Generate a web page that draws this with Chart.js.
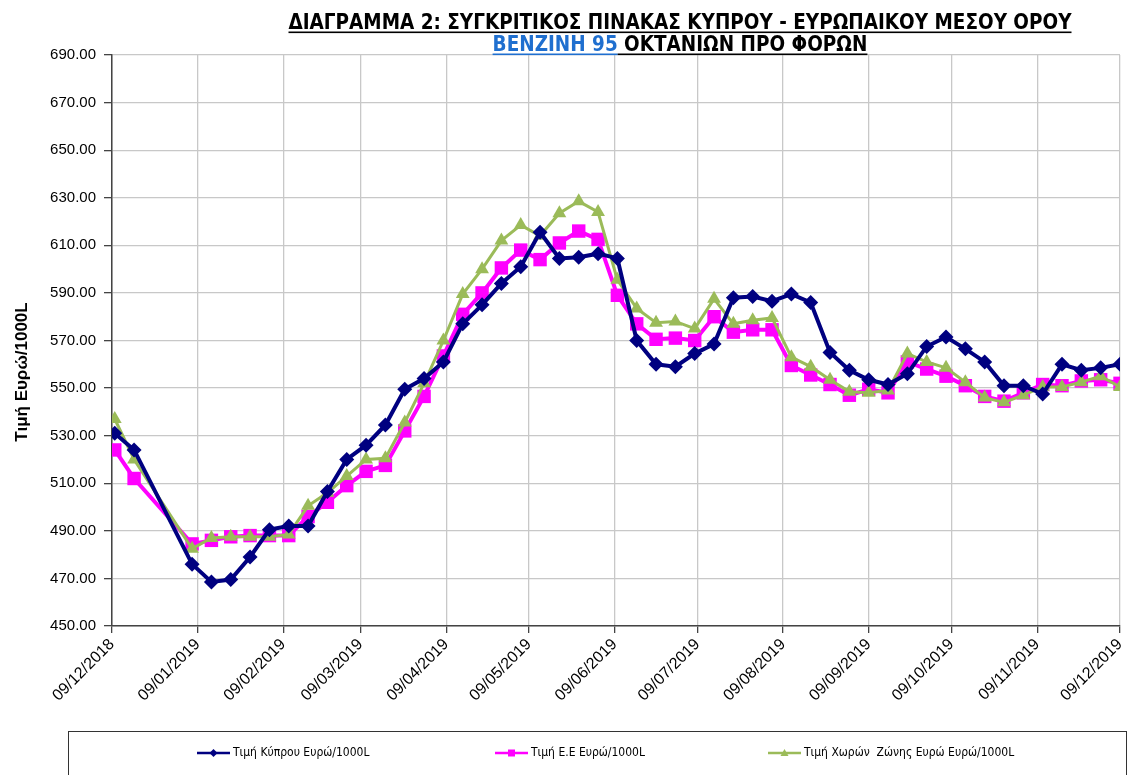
<!DOCTYPE html>
<html>
<head>
<meta charset="utf-8">
<script src="https://cdn.jsdelivr.net/npm/chart.js@4.4.1/dist/chart.umd.min.js"></script>
<style>
  body { margin: 0; background: #fff; }
  #wrap { width: 1129px; height: 775px; position: relative; }
</style>
</head>
<body>
<div id="wrap"><canvas id="myChart"></canvas></div>
<script>
// weekly price dates (Mondays)
var dates = ['10/12/2018', '17/12/2018',
  '07/01/2019', '14/01/2019', '21/01/2019', '28/01/2019',
  '04/02/2019', '11/02/2019', '18/02/2019', '25/02/2019',
  '04/03/2019', '11/03/2019', '18/03/2019', '25/03/2019',
  '01/04/2019', '08/04/2019', '15/04/2019', '22/04/2019', '29/04/2019',
  '06/05/2019', '13/05/2019', '20/05/2019', '27/05/2019',
  '03/06/2019', '10/06/2019', '17/06/2019', '24/06/2019',
  '01/07/2019', '08/07/2019', '15/07/2019', '22/07/2019', '29/07/2019',
  '05/08/2019', '12/08/2019', '19/08/2019', '26/08/2019',
  '02/09/2019', '09/09/2019', '16/09/2019', '23/09/2019', '30/09/2019',
  '07/10/2019', '14/10/2019', '21/10/2019', '28/10/2019',
  '04/11/2019', '11/11/2019', '18/11/2019', '25/11/2019',
  '02/12/2019', '09/12/2019'];

var cyprus = [531, 524, 476, 468.5, 469.5, 479, 490.5, 492, 492, 506.5, 520, 526, 534.5, 549.5, 554, 561, 577, 585, 594, 601,
  615.5, 604.5, 605, 606.5, 604.5, 570, 560, 559, 564.5, 568.5, 588, 588.5, 586.5, 589.5, 586, 565, 557.5, 553.5, 551.5, 556,
  567.5, 571.5, 566.5, 561, 551, 551, 547.5, 560, 557.5, 558.5, 560];

var eu = [524, 512, 484.5, 486, 487.5, 488, 488, 488, 496, 502, 509, 515, 517.5, 532, 546.5, 563.5, 581, 590, 600.5, 608,
  604, 611, 616, 612.5, 589, 577, 570.5, 571, 570, 580, 573.5, 574.5, 574.5, 559.5, 555.5, 551.5, 547, 549.5, 548, 561,
  558, 555, 551, 546.5, 544.5, 548, 551.5, 551, 553, 553.5, 552];

var eurozone = [537, 520, 482.5, 487, 487.5, 487.5, 487.5, 488.5, 500.5, 506, 513, 520, 520.5, 535.5, 552, 570, 589.5, 600, 612, 618.5,
  614, 623.5, 628.5, 624, 595.5, 583.5, 577.5, 578, 575, 587.5, 577, 578.5, 579.5, 563, 559, 553.5, 548.5, 548, 549, 564.5,
  561, 558.5, 552.5, 546, 544, 547, 550.5, 550.5, 552.5, 555, 550.5];

var tickLabels = ['09/12/2018', '09/01/2019', '09/02/2019', '09/03/2019', '09/04/2019', '09/05/2019', '09/06/2019',
  '09/07/2019', '09/08/2019', '09/09/2019', '09/10/2019', '09/11/2019', '09/12/2019'];

var seriesNames = ['Τιμή Κύπρου Ευρώ/1000L', 'Τιμή Ε.Ε Ευρώ/1000L', 'Τιμή Χωρών  Ζώνης Ευρώ Ευρώ/1000L'];

function dayNum(s) {
  var p = s.split('/');
  return Date.UTC(+p[2], +p[1] - 1, +p[0]) / 86400000;
}
var start = dayNum(tickLabels[0]);
var tickDays = tickLabels.map(function (s) { return dayNum(s) - start; });

function points(vals) {
  return dates.map(function (d, i) { return { x: dayNum(d) - start, y: vals[i] }; });
}

var narrow = '"Liberation Sans Narrow", "DejaVu Sans Condensed", sans-serif';

var extras = {
  id: 'extras',
  afterDraw: function (chart) {
    var c = chart.ctx;
    c.save();

    // title, two lines, underlined, squeezed to width
    c.font = 'bold 21px ' + narrow;
    c.textBaseline = 'alphabetic';
    var line1 = [{ text: 'ΔΙΑΓΡΑΜΜΑ 2: ΣΥΓΚΡΙΤΙΚΟΣ ΠΙΝΑΚΑΣ ΚΥΠΡΟΥ - ΕΥΡΩΠΑΙΚΟΥ ΜΕΣΟΥ ΟΡΟΥ', color: '#000' }];
    var line2 = [{ text: 'ΒΕΝΖΙΝΗ 95', color: '#1f6fcf' }, { text: ' ΟΚΤΑΝΙΩΝ ΠΡΟ ΦΟΡΩΝ', color: '#000' }];
    var sx = 783 / c.measureText(line1[0].text).width;
    function drawLine(parts, cx, y) {
      var total = 0;
      parts.forEach(function (p) { total += c.measureText(p.text).width * sx; });
      var x = cx - total / 2;
      parts.forEach(function (p) {
        var tw = c.measureText(p.text).width * sx;
        c.save();
        c.translate(x, y);
        c.scale(sx, 1);
        c.fillStyle = p.color;
        c.fillText(p.text, 0, 0);
        c.restore();
        c.fillStyle = p.color;
        c.fillRect(x, y + 2.5, tw, 1.6);
        x += tw;
      });
    }
    drawLine(line1, 680, 29);
    drawLine(line2, 680, 51);

    // y axis title
    c.save();
    c.translate(22, 372);
    c.rotate(-Math.PI / 2);
    c.font = 'bold 17px "Liberation Sans", Arial, sans-serif';
    c.fillStyle = '#000';
    c.textAlign = 'center';
    c.textBaseline = 'middle';
    c.fillText('Τιμή Ευρώ/1000L', 0, 0);
    c.restore();

    // legend box
    c.strokeStyle = '#333';
    c.lineWidth = 1;
    c.strokeRect(68.5, 731.5, 1058, 60);
    var lx = [197, 495, 768];
    var ly = 753;
    chart.data.datasets.forEach(function (ds, i) {
      var x = lx[i];
      c.strokeStyle = ds.borderColor;
      c.fillStyle = ds.borderColor;
      c.lineWidth = 2.5;
      c.beginPath();
      c.moveTo(x, ly);
      c.lineTo(x + 33, ly);
      c.stroke();
      var m = x + 16.5;
      c.beginPath();
      if (ds.pointStyle === 'rectRot') {
        c.moveTo(m, ly - 4); c.lineTo(m + 4, ly); c.lineTo(m, ly + 4); c.lineTo(m - 4, ly);
      } else if (ds.pointStyle === 'rect') {
        c.rect(m - 3.5, ly - 3.5, 7, 7);
      } else {
        c.moveTo(m, ly - 4); c.lineTo(m + 4, ly + 3); c.lineTo(m - 4, ly + 3);
      }
      c.closePath();
      c.fill();
      c.font = '12px ' + narrow;
      c.fillStyle = '#000';
      c.textBaseline = 'middle';
      c.textAlign = 'left';
      c.fillText(ds.label, x + 36, ly);
    });

    c.restore();
  }
};

var ctx = document.getElementById('myChart').getContext('2d');

new Chart(ctx, {
  type: 'line',
  data: {
    datasets: [{
        label: seriesNames[0],
        data: points(cyprus),
        borderColor: '#000080',
        backgroundColor: '#000080',
        borderWidth: 4,
        pointStyle: 'rectRot',
        pointRadius: 7.5,
        pointBorderWidth: 0,
        tension: 0,
        order: 1
      },
      {
        label: seriesNames[1],
        data: points(eu),
        borderColor: '#ff00ff',
        backgroundColor: '#ff00ff',
        borderWidth: 4,
        pointStyle: 'rect',
        pointRadius: 9.5,
        pointBorderWidth: 0,
        tension: 0,
        order: 3
      },
      {
        label: seriesNames[2],
        data: points(eurozone),
        borderColor: '#9bbb59',
        backgroundColor: '#9bbb59',
        borderWidth: 3,
        pointStyle: 'triangle',
        pointRadius: 8,
        pointBorderWidth: 0,
        tension: 0,
        order: 2
      }
    ]
  },
  options: {
    responsive: true,
    maintainAspectRatio: false,
    animation: false,
    devicePixelRatio: 1,
    layout: {
      autoPadding: false,
      padding: { top: 55, right: 9, left: 0, bottom: 0 }
    },
    plugins: {
      legend: { display: false },
      tooltip: { enabled: false }
    },
    scales: {
      x: {
        type: 'linear',
        min: tickDays[0],
        max: tickDays[tickDays.length - 1],
        afterBuildTicks: function (scale) {
          scale.ticks = tickDays.map(function (v) { return { value: v }; });
        },
        afterFit: function (scale) {
          scale.height = 149;
          scale.paddingLeft = 0;
          scale.paddingRight = 0;
        },
        grid: {
          color: '#c8c8c8',
          lineWidth: 1.3,
          tickColor: '#444',
          tickLength: 7
        },
        border: { color: '#444', width: 1.5 },
        ticks: {
          autoSkip: false,
          minRotation: 45,
          maxRotation: 45,
          padding: 2,
          color: '#000',
          font: { size: 16, family: '"Liberation Sans", Arial, sans-serif' },
          callback: function (value, index) { return tickLabels[index]; }
        }
      },
      y: {
        min: 450,
        max: 690,
        afterFit: function (scale) {
          scale.width = 112;
          scale.paddingTop = 0;
          scale.paddingBottom = 0;
        },
        grid: {
          color: '#c8c8c8',
          lineWidth: 1.3,
          tickColor: '#444',
          tickLength: 8
        },
        border: { color: '#444', width: 1.5 },
        ticks: {
          stepSize: 20,
          padding: 8,
          color: '#000',
          font: { size: 15, family: '"Liberation Sans", Arial, sans-serif' },
          callback: function (value) { return value.toFixed(2); }
        }
      }
    }
  },
  plugins: [extras]
});
</script>
</body>
</html>
